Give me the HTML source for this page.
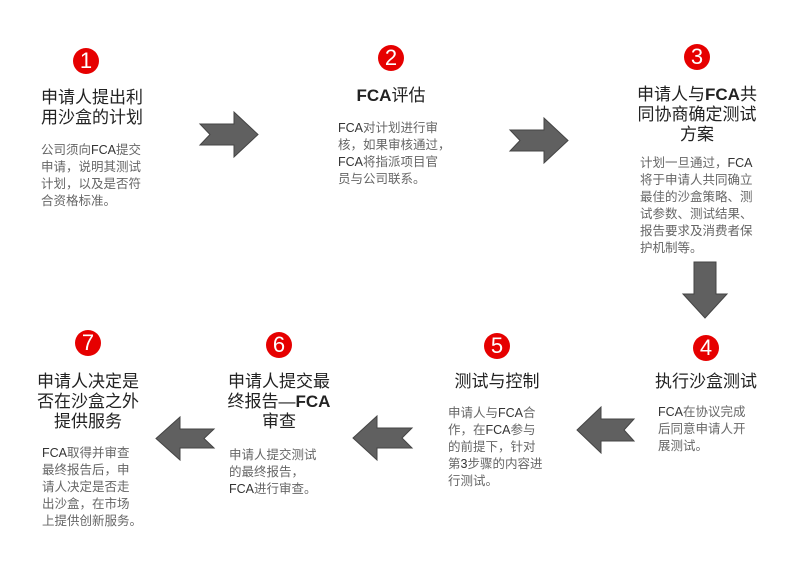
<!DOCTYPE html>
<html><head><meta charset="utf-8"><style>
body{margin:0;width:812px;height:562px;background:#fff;position:relative;overflow:hidden;font-family:"Liberation Sans","Noto Sans CJK SC",sans-serif;}
.c{position:absolute;width:26px;height:26px;border-radius:50%;background:#e60000;color:#fff;font-size:22px;line-height:26px;text-align:center;font-family:"Liberation Sans",sans-serif;}
.t{position:absolute;font-size:17px;line-height:20px;color:#222;white-space:nowrap}
.b{position:absolute;font-size:12.5px;line-height:17px;color:#666;white-space:nowrap}
.b span{color:#333}
svg{position:absolute}
</style></head><body>
<div class="c" style="left:73px;top:48px">1</div>
<div class="c" style="left:378px;top:45px">2</div>
<div class="c" style="left:684px;top:44px">3</div>
<div class="c" style="left:693px;top:335px">4</div>
<div class="c" style="left:484px;top:333px">5</div>
<div class="c" style="left:266px;top:332px">6</div>
<div class="c" style="left:75px;top:330px">7</div>

<div class="t" style="left:41px;top:88px;width:110px">申请人提出利<br>用沙盒的计划</div>
<div class="b" style="left:41px;top:142px;width:110px">公司须向<span>FCA</span>提交<br>申请，说明其测试<br>计划，以及是否符<br>合资格标准。</div>

<div class="t" style="left:321px;top:86px;width:140px;text-align:center"><b>FCA</b>评估</div>
<div class="b" style="left:338px;top:120px;width:110px"><span>FCA</span>对计划进行审<br>核，如果审核通过，<br><span>FCA</span>将指派项目官<br>员与公司联系。</div>

<div class="t" style="left:627px;top:85px;width:140px;text-align:center">申请人与<b>FCA</b>共<br>同协商确定测试<br>方案</div>
<div class="b" style="left:640px;top:155px;width:130px">计划一旦通过，<span>FCA</span><br>将于申请人共同确立<br>最佳的沙盒策略、测<br>试参数、测试结果、<br>报告要求及消费者保<br>护机制等。</div>

<div class="t" style="left:636px;top:372px;width:140px;text-align:center">执行沙盒测试</div>
<div class="b" style="left:658px;top:404px;width:110px"><span>FCA</span>在协议完成<br>后同意申请人开<br>展测试。</div>

<div class="t" style="left:427px;top:372px;width:140px;text-align:center">测试与控制</div>
<div class="b" style="left:448px;top:405px;width:110px">申请人与<span>FCA</span>合<br>作，在<span>FCA</span>参与<br>的前提下，针对<br>第<span>3</span>步骤的内容进<br>行测试。</div>

<div class="t" style="left:209px;top:372px;width:140px;text-align:center">申请人提交最<br>终报告—<b>FCA</b><br>审查</div>
<div class="b" style="left:229px;top:447px;width:110px">申请人提交测试<br>的最终报告，<br><span>FCA</span>进行审查。</div>

<div class="t" style="left:18px;top:372px;width:140px;text-align:center">申请人决定是<br>否在沙盒之外<br>提供服务</div>
<div class="b" style="left:42px;top:445px;width:110px"><span>FCA</span>取得并审查<br>最终报告后，申<br>请人决定是否走<br>出沙盒，在市场<br>上提供创新服务。</div>

<svg width="812" height="562" style="left:0;top:0">
<g fill="#606060" stroke="#444" stroke-width="1">
<polygon points="200,124 234,124 234,112 258,134.5 234,157 234,145 200,145 210,134.5"/>
<polygon points="510,130 544,130 544,118 568,140.5 544,163 544,151 510,151 520,140.5"/>
<polygon points="694,262 716,262 716,294 727,294 705,318 683,294 694,294"/>
<polygon points="634,419 601,419 601,407 577,430 601,453 601,441 634,441 624,430"/>
<polygon points="412,428 377,428 377,416 353,438 377,460 377,448 412,448 402,438"/>
<polygon points="214,429 180,429 180,417 156,438.5 180,460 180,448 214,448 204,438.5"/>
</g>
</svg>
</body></html>
